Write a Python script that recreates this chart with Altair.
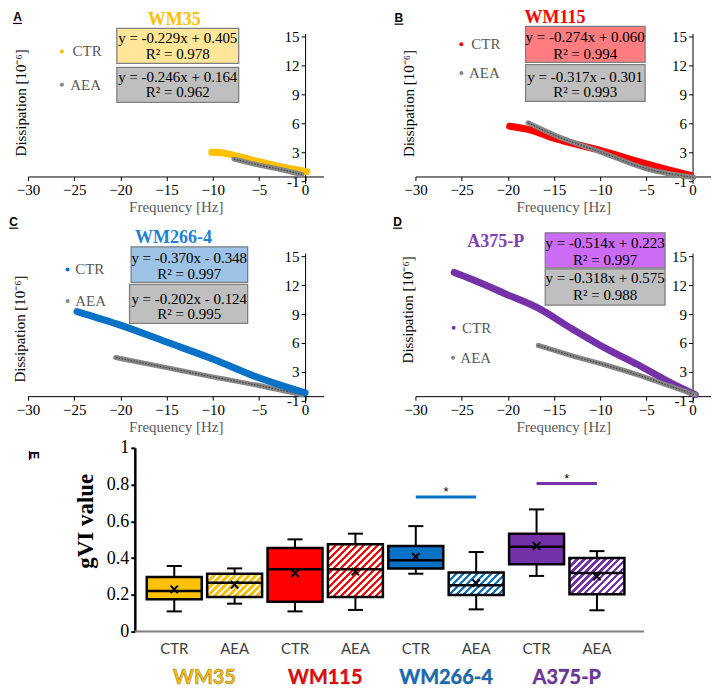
import altair as alt
import pandas as pd

# ---------------- values ----------------
CELL_LINES = ["WM35", "WM115", "WM266-4", "A375-P"]
CONDITIONS = ["CTR", "AEA"]

# Panels A-D: dissipation (10^-6) versus frequency shift (Hz), traced along each point cloud
A_CTR_FREQ = [-10.1, -9.0, -7.6, -5.1, -2.55, 0.2]
A_CTR_DISS = [3.0, 2.95, 2.65, 2.05, 1.5, 1.0]
A_AEA_FREQ = [-7.7, -5.1, -2.55, -0.35]
A_AEA_DISS = [2.3, 1.7, 1.2, 0.7]
B_CTR_FREQ = [-19.8, -17.5, -15, -10, -5, -0.2]
B_CTR_DISS = [5.7, 5.3, 4.45, 3.2, 1.8, 0.6]
B_AEA_FREQ = [-17.8, -15, -10, -5, 0.15]
B_AEA_DISS = [6.05, 4.8, 3.05, 1.3, 0.4]
C_CTR_FREQ = [-24.7, -20, -15, -10, -5, 0]
C_CTR_DISS = [9.25, 7.85, 6.1, 4.35, 2.4, 0.85]
C_AEA_FREQ = [-20.5, -15, -10, -5, -0.3]
C_AEA_DISS = [4.5, 3.45, 2.5, 1.6, 0.65]
D_CTR_FREQ = [-25.8, -23.9, -20.3, -16.7, -13.1, -9.5, -5.9, -2.3, 0.3]
D_CTR_DISS = [13.3, 12.6, 11.1, 9.6, 7.5, 5.5, 3.75, 1.85, 0.65]
D_AEA_FREQ = [-16.7, -13.1, -9.5, -5.9, -2.3, 0.3]
D_AEA_DISS = [5.75, 4.7, 3.75, 2.7, 1.5, 0.65]

EQ_CTR = ["y = -0.229x + 0.405", "y = -0.274x + 0.060", "y = -0.370x - 0.348", "y = -0.514x + 0.223"]
R2_CTR = ["R² = 0.978", "R² = 0.994", "R² = 0.997", "R² = 0.997"]
EQ_AEA = ["y = -0.246x + 0.164", "y = -0.317x - 0.301", "y = -0.202x - 0.124", "y = -0.318x + 0.575"]
R2_AEA = ["R² = 0.962", "R² = 0.993", "R² = 0.995", "R² = 0.988"]

FREQ_TICKS = [-30, -25, -20, -15, -10, -5, 0]
DISS_TICKS = [0, 3, 6, 9, 12, 15]
DISS_TICK_LABELS = ["-1", "3", "6", "9", "12", "15"]

# Panel E: gVI box plots
BOX_GROUP = ["WM35", "WM35", "WM115", "WM115", "WM266-4", "WM266-4", "A375-P", "A375-P"]
BOX_COND = ["CTR", "AEA", "CTR", "AEA", "CTR", "AEA", "CTR", "AEA"]
BOX_MIN = [0.110, 0.152, 0.110, 0.118, 0.315, 0.121, 0.303, 0.116]
BOX_Q1 = [0.176, 0.188, 0.163, 0.188, 0.344, 0.199, 0.366, 0.203]
BOX_MED = [0.221, 0.266, 0.339, 0.339, 0.388, 0.252, 0.462, 0.319]
BOX_Q3 = [0.297, 0.315, 0.455, 0.475, 0.466, 0.322, 0.533, 0.400]
BOX_MAX = [0.357, 0.344, 0.502, 0.533, 0.574, 0.433, 0.665, 0.438]
BOX_MEAN = [0.230, 0.255, 0.317, 0.326, 0.408, 0.263, 0.466, 0.300]
SIG_GROUPS = ["WM266-4", "A375-P"]
SIG_LEVEL = [0.732, 0.806]
GVI_TICKS = [0, 0.2, 0.4, 0.6, 0.8, 1]

CTR_FREQ = [A_CTR_FREQ, B_CTR_FREQ, C_CTR_FREQ, D_CTR_FREQ]
CTR_DISS = [A_CTR_DISS, B_CTR_DISS, C_CTR_DISS, D_CTR_DISS]
AEA_FREQ = [A_AEA_FREQ, B_AEA_FREQ, C_AEA_FREQ, D_AEA_FREQ]
AEA_DISS = [A_AEA_DISS, B_AEA_DISS, C_AEA_DISS, D_AEA_DISS]

# ---------------- styles ----------------
SERIF = "Liberation Serif"
SANS = "Liberation Sans"
HUMAN = "Lato"
MAIN = ["#FFC000", "#FF0000", "#0A72C6", "#7532A8"]
TITLE_COL = ["#FFC000", "#FF0000", "#1F7FD0", "#8040B8"]
BOX_FILL = ["#FFE699", "#FF7C80", "#9DC3E6", "#CC6CF5"]
GRAY = "#858585"
GRAY_FILL = "#BFBFBF"

W, H = 296, 150
XDOM = [-30, 2]
YDOM = [-0.2, 15.3]
Y_AXIS_PX = (0 - XDOM[0]) / (XDOM[1] - XDOM[0]) * W
X_AXIS_OFF = -(0.5 - YDOM[0]) / (YDOM[1] - YDOM[0]) * H

ONE = pd.DataFrame({"k": [0]})

LAYOUT = {
    "A": dict(letter=(-10.5, -12), title=(146.5, -8.7), cbox=(89, 211, -5, 30), abox=(89, 211, 34, 69),
              tx=150, clines=(5, 21), alines=(44, 59), cdot=(34, 18), adot=(34, 51.3), ltx=(44.7, 42.3),
              ytitle=(-7.7, 69), order=["CTR", "AEA"]),
    "B": dict(letter=(-16.5, -11.3), title=(139.8, -10.3), cbox=(110.3, 230, -7, 29), abox=(110.3, 230, 31.3, 68),
              tx=170, clines=(4, 21), alines=(44, 59), cdot=(46, 10.7), adot=(46, 39.7), ltx=(56, 53.7),
              ytitle=(-7, 69.7), order=["CTR", "AEA"]),
    "C": dict(letter=(-14.3, -27), title=(145.7, -10.3), cbox=(103.3, 220, -6.3, 29.3), abox=(101.7, 220, 31.3, 70.3),
              tx=161.5, clines=(4.7, 20.5), alines=(45.5, 61.3), cdot=(39.7, 16.3), adot=(39.7, 48), ltx=(47.3, 47.3),
              ytitle=(-8.5, 75.5), order=["AEA", "CTR"]),
    "D": dict(letter=(-17.8, -27), title=(80.5, -6.3), cbox=(130, 250, -20.3, 14.7), abox=(130, 250, 15.7, 52),
              tx=190, clines=(-10.3, 6.5), alines=(25.3, 42), cdot=(38.3, 74.7), adot=(37.7, 104.7), ltx=(46.7, 45),
              ytitle=(-7.5, 56.3), order=["CTR", "AEA"]),
}


def label_expr(values, labels):
    expr = "datum.label"
    for v, l in reversed(list(zip(values, labels))):
        expr = f"datum.value === {v} ? '{l}' : ({expr})"
    return expr


def txt(text, x, y, **kw):
    return alt.Chart(ONE).mark_text(text=text, **kw).encode(x=alt.value(x), y=alt.value(y))


def rect(x1, x2, y1, y2, fill):
    return alt.Chart(ONE).mark_rect(fill=fill, stroke="#7F7F7F", strokeWidth=1.3).encode(
        x=alt.value(x1), x2=alt.value(x2), y=alt.value(y1), y2=alt.value(y2))


def hrule(x1, x2, y, color="black", width=1.2):
    return alt.Chart(ONE).mark_rule(color=color, strokeWidth=width).encode(
        x=alt.value(x1), x2=alt.value(x2), y=alt.value(y))


def panel(i):
    key = "ABCD"[i]
    lay = LAYOUT[key]
    xaxis = alt.Axis(values=FREQ_TICKS, title="Frequency [Hz]", offset=X_AXIS_OFF, grid=False,
                     tickSize=4, tickColor="black", domainColor="black", labelColor="black",
                     labelFont=SERIF, labelFontSize=15, labelPadding=2, labelFlush=False, labelOverlap=False,
                     titleFont=SERIF, titleFontSize=15, titleFontWeight="normal", titleColor="#595959",
                     titlePadding=2)
    yaxis = alt.Axis(values=DISS_TICKS, labelExpr=label_expr(DISS_TICKS, DISS_TICK_LABELS), orient="left",
                     offset=-Y_AXIS_PX, grid=False, tickSize=4, tickColor="black", domainColor="black",
                     labelColor="black", labelFont=SERIF, labelFontSize=15, labelPadding=2, labelOverlap=False,
                     title="Dissipation  [10⁻⁶]", titleFont=SERIF, titleFontSize=15, titleFontWeight="normal",
                     titleColor="black", titleAngle=270, titleBaseline="middle", titleAlign="center",
                     titleX=lay["ytitle"][0] - Y_AXIS_PX, titleY=lay["ytitle"][1])
    X = alt.X("f:Q", scale=alt.Scale(domain=XDOM, nice=False, zero=False), axis=xaxis)
    Y = alt.Y("d:Q", scale=alt.Scale(domain=YDOM, nice=False, zero=False), axis=yaxis)

    layers = []
    for cond in lay["order"]:
        if cond == "CTR":
            df = pd.DataFrame({"f": CTR_FREQ[i], "d": CTR_DISS[i]})
            layers.append(alt.Chart(df).mark_line(color=MAIN[i], strokeWidth=7, strokeCap="round",
                                                  strokeJoin="round", interpolate="monotone").encode(x=X, y=Y))
        else:
            df = pd.DataFrame({"f": AEA_FREQ[i], "d": AEA_DISS[i]})
            layers.append(alt.Chart(df).mark_line(color=GRAY, strokeWidth=5, strokeCap="round",
                                                  strokeJoin="round", interpolate="monotone").encode(x=X, y=Y))
            layers.append(alt.Chart(df).mark_line(color="#3A3A3A", strokeWidth=1, strokeDash=[1.5, 1.5],
                                                  interpolate="monotone").encode(x=X, y=Y))

    # regression boxes
    cb, ab = lay["cbox"], lay["abox"]
    layers.append(rect(cb[0], cb[1], cb[2], cb[3], BOX_FILL[i]))
    layers.append(rect(ab[0], ab[1], ab[2], ab[3], GRAY_FILL))
    eq_kw = dict(font=SERIF, fontSize=15, color="black", align="center", baseline="middle")
    layers.append(txt(EQ_CTR[i], lay["tx"], lay["clines"][0], **eq_kw))
    layers.append(txt(R2_CTR[i], lay["tx"], lay["clines"][1], **eq_kw))
    layers.append(txt(EQ_AEA[i], lay["tx"], lay["alines"][0], **eq_kw))
    layers.append(txt(R2_AEA[i], lay["tx"], lay["alines"][1], **eq_kw))

    # legend
    for cond, dot, tx, col in [("CTR", lay["cdot"], lay["ltx"][0], MAIN[i]),
                               ("AEA", lay["adot"], lay["ltx"][1], GRAY)]:
        layers.append(alt.Chart(ONE).mark_point(filled=True, size=16, color=col, opacity=1).encode(
            x=alt.value(dot[0]), y=alt.value(dot[1])))
        layers.append(txt(cond, tx, dot[1], font=SERIF, fontSize=15, color="#595959", align="left",
                          baseline="middle"))

    # titles
    layers.append(txt(CELL_LINES[i], lay["title"][0], lay["title"][1], font=SERIF, fontSize=18,
                      fontWeight="bold", color=TITLE_COL[i], align="center", baseline="alphabetic"))
    lx, ly = lay["letter"]
    layers.append(txt(key, lx, ly, font=SANS, fontSize=12, fontWeight="bold", color="black",
                      align="center", baseline="alphabetic"))
    layers.append(hrule(lx - 4.5, lx + 4.5, ly + 2))
    return alt.layer(*layers).properties(width=W, height=H)


# ---------------- panel E ----------------
EH = 184
PX_PER_POS = 60.47
AXIS_POS = -0.653
E_AXIS_PX = 107
EXDOM = [AXIS_POS - E_AXIS_PX / PX_PER_POS, 7.78]
EW = (EXDOM[1] - EXDOM[0]) * PX_PER_POS
BOX_HALF = 0.455
CAP_HALF = 0.125

box = pd.DataFrame({"group": BOX_GROUP, "cond": BOX_COND, "lo": BOX_MIN, "q1": BOX_Q1, "med": BOX_MED,
                    "q3": BOX_Q3, "hi": BOX_MAX, "mean": BOX_MEAN})
box["pos"] = list(range(len(box)))

ESCALE = alt.Scale(domain=EXDOM, nice=False, zero=False)
EYSCALE = alt.Scale(domain=[0, 1], nice=False, zero=False)
EAXIS = alt.Axis(values=GVI_TICKS, format="~g", orient="left", offset=-E_AXIS_PX, grid=False,
                 domainWidth=2.5, domainColor="black", tickWidth=2, tickSize=4, tickColor="black",
                 labelColor="black", labelFont=SERIF, labelFontSize=18, labelPadding=2,
                 title="gVI value", titleFont=SERIF, titleFontSize=23, titleFontWeight="bold",
                 titleColor="black", titleAngle=270, titleBaseline="middle", titleAlign="center",
                 titleX=58 - E_AXIS_PX, titleY=73)
GROUP_COLOR = alt.Color("group:N", scale=alt.Scale(domain=CELL_LINES, range=MAIN), legend=None)


def EX(f):
    return alt.X(f, type="quantitative", scale=ESCALE, axis=None)


def EY(f):
    return alt.Y(f, type="quantitative", scale=EYSCALE, axis=EAXIS)


base = alt.Chart(box).transform_calculate(
    xl=f"datum.pos - {BOX_HALF}", xr=f"datum.pos + {BOX_HALF}",
    cl=f"datum.pos - {CAP_HALF}", cr=f"datum.pos + {CAP_HALF}")


def hatch(color, h_val, pitch=7.0):
    w = 2 * BOX_HALF * PX_PER_POS
    h = h_val * EH
    n = (w + h) / pitch
    stops = []
    k = 0
    while k / n < 1:
        a, b, c = k / n, min((k + 0.5) / n, 1), min((k + 1) / n, 1)
        stops += [(color, a), (color, b), ("white", b), ("white", c)]
        k += 1
    s = (w + h) / (w * w + h * h)
    return alt.LinearGradient(gradient="linear",
                              stops=[alt.GradientStop(color=c, offset=o) for c, o in stops],
                              x1=0, y1=0, x2=w * s, y2=h * s)


e_layers = [
    alt.Chart(ONE).mark_rule(color="#7F7F7F", strokeWidth=2).encode(
        x=alt.X(datum=AXIS_POS, type="quantitative", scale=ESCALE, axis=None),
        x2=alt.X2(datum=EXDOM[1]),
        y=alt.Y(datum=0, type="quantitative", scale=EYSCALE, axis=EAXIS)),
    base.mark_rule(color="black", strokeWidth=2).encode(x=EX("pos"), y=EY("lo"), y2="q1:Q"),
    base.mark_rule(color="black", strokeWidth=2).encode(x=EX("pos"), y=EY("q3"), y2="hi:Q"),
    base.mark_rule(color="black", strokeWidth=2).encode(x=EX("cl"), x2="cr:Q", y=EY("lo")),
    base.mark_rule(color="black", strokeWidth=2).encode(x=EX("cl"), x2="cr:Q", y=EY("hi")),
    base.transform_filter("datum.cond === 'CTR'").mark_bar(stroke="black", strokeWidth=2.5).encode(
        x=EX("xl"), x2="xr:Q", y=EY("q1"), y2="q3:Q", color=GROUP_COLOR),
]
for gi, g in enumerate(CELL_LINES):
    row = box[(box.group == g) & (box.cond == "AEA")].iloc[0]
    e_layers.append(
        base.transform_filter(f"datum.group === '{g}' && datum.cond === 'AEA'").mark_bar(
            fill=hatch(MAIN[gi], row.q3 - row.q1), stroke="black", strokeWidth=2.5).encode(
            x=EX("xl"), x2="xr:Q", y=EY("q1"), y2="q3:Q"))
e_layers += [
    base.mark_rule(color="black", strokeWidth=2.5).encode(x=EX("xl"), x2="xr:Q", y=EY("med")),
    base.mark_point(shape="M-1,-1L1,1M-1,1L1,-1", size=55, stroke="black", strokeWidth=2,
                    filled=False, opacity=1).encode(x=EX("pos"), y=EY("mean")),
    base.mark_text(font=HUMAN, fontSize=15, color="#404040", baseline="middle").encode(
        x=EX("pos"), y=alt.value(201), text="cond:N"),
    base.transform_aggregate(gpos="mean(pos)", groupby=["group"]).mark_text(
        font=HUMAN, fontSize=20, fontWeight="bold", baseline="middle", stroke="#3A3A3A",
        strokeWidth=0.6, strokeOpacity=0.6).encode(
        x=EX("gpos"), y=alt.value(230), text="group:N", color=GROUP_COLOR),
]

ctr_pos = {g: p for g, c, p in zip(box.group, box.cond, box.pos) if c == "CTR"}
aea_pos = {g: p for g, c, p in zip(box.group, box.cond, box.pos) if c == "AEA"}
sig = pd.DataFrame({"group": SIG_GROUPS, "level": SIG_LEVEL,
                    "x1": [ctr_pos[g] for g in SIG_GROUPS], "x2": [aea_pos[g] for g in SIG_GROUPS]})
e_layers += [
    alt.Chart(sig).mark_rule(strokeWidth=3).encode(x=EX("x1"), x2="x2:Q", y=EY("level"), color=GROUP_COLOR),
    alt.Chart(sig).transform_calculate(mid="(datum.x1 + datum.x2) / 2").mark_text(
        text="*", font=SANS, fontSize=13, color="black", baseline="alphabetic", dy=-1).encode(
        x=EX("mid"), y=EY("level")),
    txt("E", 6, 7.5, font=SANS, fontSize=12, fontWeight="bold", color="black", align="center",
        baseline="middle", angle=90),
    alt.Chart(ONE).mark_rule(color="black", strokeWidth=1.2).encode(
        x=alt.value(1.5), y=alt.value(3), y2=alt.value(12)),
]
panel_e = alt.layer(*e_layers).properties(width=EW, height=EH)

grid = alt.concat(panel(0), panel(1), panel(2), panel(3), columns=2, bounds="flush",
                  spacing={"row": 70, "column": 92})
chart = alt.vconcat(grid, panel_e, spacing=4).properties(
    padding={"left": 0, "top": 0, "right": 0, "bottom": 0}
).configure_view(stroke=None).configure_axis(grid=False)

chart.save("out.html", embed_options={"renderer": "svg", "actions": False})
